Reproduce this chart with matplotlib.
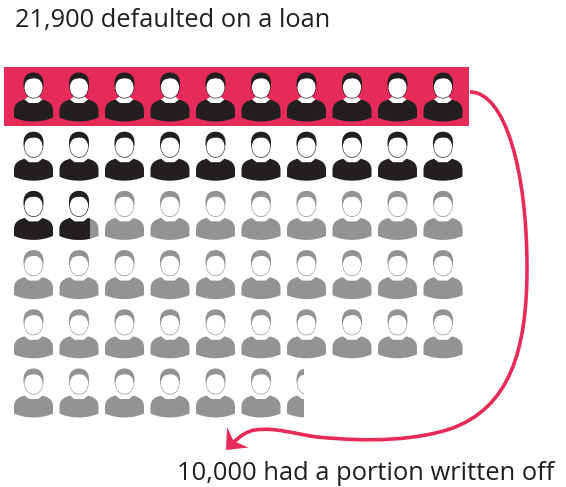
import matplotlib
matplotlib.use('Agg')
import matplotlib.pyplot as plt
from matplotlib.patches import PathPatch, Rectangle, Polygon
from matplotlib.path import Path
from matplotlib.transforms import Affine2D

plt.rcParams['font.family'] = ['Open Sans', 'DejaVu Sans']

# one icon = 1,000 people
written_off = 10
defaulted = 21.77
total = 56.44
per_row = 10
title = '21,900 defaulted on a loan'
caption = '10,000 had a portion written off'

COL_RED = '#e62b58'
COL_BLACK = '#231f20'
COL_GREY = '#939393'

# layout in pixels
X0, DX = 33.5, 45.5
Y0, DY = 72.5, 59.2
HALF_W = 19.5

M, C, L = Path.MOVETO, Path.CURVE4, Path.LINETO


def curve(points):
    # points: start, then triples of bezier controls
    codes = [M] + [C] * (len(points) - 1)
    return Path(points, codes)


# icon shapes, x from head centre, y down from top of hair
BODY = Path([(-7, 26.5), (-13, 28), (-19.5, 30), (-19.5, 38), (-19.5, 41), (-19.5, 44),
             (-19.5, 45), (-13, 48), (-6, 49), (0, 49), (6, 49), (13, 48), (19.5, 45),
             (19.5, 44), (19.5, 41), (19.5, 38), (19.5, 30), (13, 28), (7, 26.5),
             (-7, 26.5)],
            [M] + [C] * 18 + [L])
NECK = Path([(-5.5, 21), (5.5, 21), (5.5, 24.5), (9, 27), (4.5, 30.5), (-4.5, 30.5), (-9, 27), (-5.5, 24.5), (-5.5, 21)],
            [M, L, L, L, L, L, L, L, L])
HEAD = curve([(0, 1), (6, 1), (9.8, 6), (9.8, 13), (9.8, 20), (6.5, 26), (0, 26),
              (-6.5, 26), (-9.8, 20), (-9.8, 13), (-9.8, 6), (-6, 1), (0, 1)])
HAIR = curve([(0, 0), (6, 0), (9.9, 4), (9.9, 10), (9.9, 12), (9.8, 13), (9.4, 15),
              (8.9, 10), (6, 6.5), (3, 6), (0, 5.5), (-4, 6), (-6, 7.5),
              (-8, 9), (-8.9, 12), (-9.4, 15), (-9.8, 13), (-9.9, 12), (-9.9, 10),
              (-9.9, 4), (-6, 0), (0, 0)])
FACE = curve([(0, 5.5), (5.5, 5.5), (9.1, 8), (9.1, 14), (9.1, 20), (6, 25.3), (0, 25.3),
              (-6, 25.3), (-9.1, 20), (-9.1, 14), (-9.1, 8), (-5.5, 5.5), (0, 5.5)])


def draw_person(ax, cx, top, color, clip_right=None):
    tr = Affine2D().translate(cx, top) + ax.transData
    parts = [(BODY, color), (NECK, 'white'), (HEAD, color), (FACE, 'white'), (HAIR, color)]
    for path, fc in parts:
        patch = PathPatch(path, facecolor=fc, edgecolor='none', lw=0, transform=tr)
        ax.add_patch(patch)
        if clip_right is not None:
            clip = Rectangle((cx - HALF_W - 2, top - 2), clip_right - (cx - HALF_W - 2), 60,
                             transform=ax.transData)
            patch.set_clip_path(clip)


fig = plt.figure(figsize=(5.66, 4.87), dpi=100)
ax = fig.add_axes([0, 0, 1, 1])
ax.set_xlim(0, 566)
ax.set_ylim(487, 0)
ax.axis('off')

ax.add_patch(Rectangle((4, 67), 465, 58.7, facecolor=COL_RED, edgecolor='none'))

n_icons = int(total) + 1
for i in range(n_icons):
    row, col = divmod(i, per_row)
    cx = X0 + col * DX
    top = Y0 + row * DY
    left = cx - HALF_W
    width = 2 * HALF_W
    shown = min(1, total - i)       # last icon is cut
    black = defaulted - i           # share of this icon that is black
    right = left + width * shown
    clip = right if shown < 1 else None
    if black >= 1:
        draw_person(ax, cx, top, COL_BLACK)
    else:
        draw_person(ax, cx, top, COL_GREY, clip_right=clip)
        if black > 0:
            draw_person(ax, cx, top, COL_BLACK, clip_right=left + width * black)

# connector from the red band to the caption
arrow = Path([(470, 92), (505, 92), (527, 170), (527, 268),
              (527, 350), (510, 408), (450, 429),
              (400, 445), (340, 439), (317, 437),
              (295, 434), (275, 427), (255, 430),
              (247, 431), (240, 436), (233, 443)],
             [M] + [C] * 15)
ax.add_patch(PathPatch(arrow, facecolor='none', edgecolor=COL_RED, lw=2.6, capstyle='butt'))
ax.add_patch(Polygon([(226, 450), (227, 427), (233.5, 441), (248.5, 447.5)],
                     closed=True, facecolor=COL_RED, edgecolor='none'))

ax.text(15, 20, title, fontsize=18.25, color=COL_BLACK, va='center', ha='left')
ax.text(177, 473, caption, fontsize=18.4, color=COL_BLACK, va='center', ha='left')

fig.savefig('out.png', dpi=100)
